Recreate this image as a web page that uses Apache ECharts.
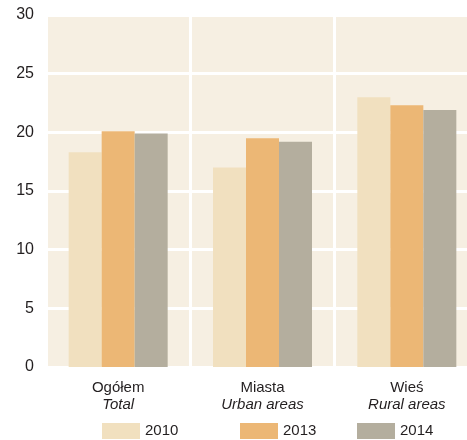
<!DOCTYPE html>
<html><head><meta charset="utf-8">
<script src="https://cdn.jsdelivr.net/npm/echarts@6/dist/echarts.min.js"></script>
<style>html,body{margin:0;padding:0;background:#fff}#c{width:467px;height:440px}</style>
</head><body><div id="c"></div>
<script>
const categoriesPL = ['Ogółem', 'Miasta', 'Wieś'];
const categoriesEN = ['Total', 'Urban areas', 'Rural areas'];
const years = ['2010', '2013', '2014'];
const values2010 = [18.3, 17.0, 23.0];
const values2013 = [20.1, 19.5, 22.3];
const values2014 = [19.9, 19.2, 21.9];
const yTicks = [0, 5, 10, 15, 20, 25, 30];
const colors = ['#F1E0BF', '#ECB775', '#B4AE9E'];
const seriesValues = [values2010, values2013, values2014];

const chart = echarts.init(document.getElementById('c'), null, {renderer: 'canvas'});
const font = 'Liberation Sans, Arial, sans-serif';
const legendLefts = [97, 235, 352];
chart.setOption({
  animation: false,
  grid: {left: 46, width: 433, top: 15, height: 352, outerBoundsMode: 'none', containLabel: false,
         show: true, backgroundColor: '#F6EFE2', borderWidth: 0},
  legend: years.map((y, i) => ({
    data: [y], left: legendLefts[i], top: 418, itemWidth: 38, itemHeight: 16,
    icon: 'rect', textStyle: {fontSize: 15, color: '#231F20', fontFamily: font}, selectedMode: false
  })),
  xAxis: {
    type: 'category',
    data: categoriesPL.map((c, i) => c + '|' + categoriesEN[i]),
    axisLine: {show: false}, axisTick: {show: false},
    splitLine: {show: true, lineStyle: {color: '#fff', width: 3}},
    axisLabel: {
      margin: 12,
      formatter: v => { const p = v.split('|'); return '{a|' + p[0] + '}\n{b|' + p[1] + '}'; },
      rich: {
        a: {fontSize: 15, color: '#231F20', fontFamily: font, lineHeight: 17},
        b: {fontSize: 15, color: '#231F20', fontFamily: font, fontStyle: 'italic', lineHeight: 17}
      }
    }
  },
  yAxis: {
    type: 'value', min: yTicks[0], max: yTicks[yTicks.length - 1], interval: 5,
    axisLine: {show: false}, axisTick: {show: false},
    splitLine: {show: true, lineStyle: {color: '#fff', width: 3}},
    axisLabel: {fontSize: 16, color: '#231F20', fontFamily: font, margin: 12}
  },
  series: years.map((y, i) => ({
    name: y, type: 'bar', data: seriesValues[i], barWidth: 33, barGap: '0%',
    itemStyle: {color: colors[i]}
  }))
});
</script></body></html>
